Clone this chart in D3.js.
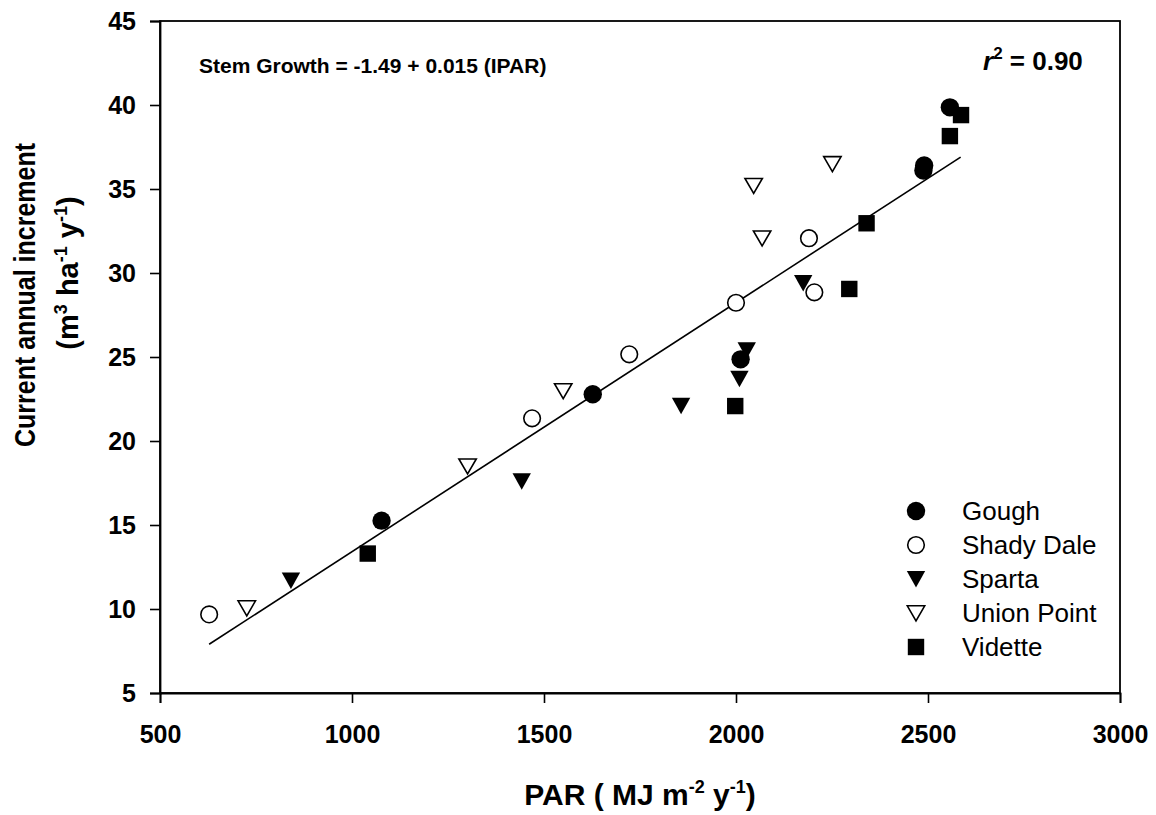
<!DOCTYPE html>
<html>
<head>
<meta charset="utf-8">
<script src="https://cdn.jsdelivr.net/npm/d3@7"></script>
<style>
  body { margin: 0; background: #fff; }
  svg { font-family: "Liberation Sans", Arial, sans-serif; }
</style>
</head>
<body>
<svg id="chart" width="1156" height="815"></svg>
<script>
// site data: [PAR, current annual increment]
let gough = [[1077, 15.26], [1627, 22.78], [2012, 24.86], [2490, 36.4], [2488, 36.1], [2557, 39.86]];
let shadyDale = [[628, 9.68], [1469, 21.35], [1722, 25.16], [2000, 28.23], [2190, 32.07], [2204, 28.85]];
let sparta = [[841, 11.7], [1442, 17.6], [1857, 22.1], [2009, 23.7], [2028, 25.4], [2175, 29.4]];
let unionPoint = [[726, 10.06], [1301, 18.5], [1550, 22.98], [2046, 35.2], [2068, 32.07], [2251, 36.5]];
let vidette = [[1041, 13.3], [1998, 22.08], [2295, 29.05], [2340, 32.96], [2557, 38.15], [2586, 39.4]];
let fitLine = [[628, 7.9], [2585, 36.9]];

let siteNames = ["Gough", "Shady Dale", "Sparta", "Union Point", "Vidette"];
let siteSymbols = ["circleFill", "circleOpen", "triFill", "triOpen", "square"];
let xTicks = [500, 1000, 1500, 2000, 2500, 3000];
let yTicks = [5, 10, 15, 20, 25, 30, 35, 40, 45];

let margin = {top: 21, right: 36, bottom: 122, left: 160};
let W = 1156, H = 815;

let svg = d3.select("#chart");
let x = d3.scaleLinear().domain([500, 3000]).range([margin.left, W - margin.right]);
let y = d3.scaleLinear().domain([5, 45]).range([H - margin.bottom, margin.top]);

// symbol drawing
function drawSymbol(g, kind) {
  if (kind === "circleFill") {
    g.append("circle").attr("r", 9.2).attr("fill", "#000");
  } else if (kind === "circleOpen") {
    g.append("circle").attr("r", 8.3).attr("fill", "#fff").attr("stroke", "#000").attr("stroke-width", 1.6);
  } else if (kind === "triFill") {
    g.append("path").attr("d", "M-9.2,-8L9.2,-8L0,8.5Z").attr("fill", "#000");
  } else if (kind === "triOpen") {
    g.append("path").attr("d", "M-8.7,-7.2L8.7,-7.2L0,7.8Z").attr("fill", "#fff").attr("stroke", "#000").attr("stroke-width", 1.6);
  } else {
    g.append("rect").attr("x", -8.2).attr("y", -8.2).attr("width", 16.4).attr("height", 16.4).attr("fill", "#000");
  }
}

// frame
svg.append("rect")
  .attr("x", x(500)).attr("y", y(45))
  .attr("width", x(3000) - x(500)).attr("height", y(5) - y(45))
  .attr("fill", "none").attr("stroke", "#000").attr("stroke-width", 1.8);

// axes
let xAxis = svg.append("g")
  .attr("transform", `translate(0,${y(5)})`)
  .call(d3.axisBottom(x).tickValues(xTicks).tickSize(10).tickPadding(22).tickFormat(d3.format("d")));
let yAxis = svg.append("g")
  .attr("transform", `translate(${x(500)},0)`)
  .call(d3.axisLeft(y).tickValues(yTicks).tickSize(10).tickPadding(14).tickFormat(d3.format("d")));
[xAxis, yAxis].forEach(a => {
  a.select(".domain").attr("stroke-width", 1.8);
  a.selectAll(".tick line").attr("stroke-width", 1.6);
  a.selectAll("text").attr("font-size", 25).attr("font-weight", "bold").attr("font-family", "Liberation Sans, Arial, sans-serif").attr("fill", "#000");
});
xAxis.selectAll("text").attr("dy", "0.71em");

// regression line
svg.append("path")
  .datum(fitLine)
  .attr("d", d3.line().x(d => x(d[0])).y(d => y(d[1])))
  .attr("fill", "none").attr("stroke", "#000").attr("stroke-width", 1.6);

// points
let series = [gough, shadyDale, sparta, unionPoint, vidette];
series.forEach((pts, i) => {
  pts.forEach(p => {
    let g = svg.append("g").attr("transform", `translate(${x(p[0])},${y(p[1])})`);
    drawSymbol(g, siteSymbols[i]);
  });
});

// legend
let legend = svg.append("g");
siteNames.forEach((name, i) => {
  let ly = 511 + i * 34;
  let g = legend.append("g").attr("transform", `translate(916,${ly})`);
  drawSymbol(g, siteSymbols[i]);
  legend.append("text")
    .attr("x", 962).attr("y", ly).attr("dy", "0.35em")
    .attr("font-size", 26).text(name);
});

// equation and r2
svg.append("text")
  .attr("x", 199).attr("y", 73)
  .attr("font-size", 21).attr("font-weight", "bold")
  .text("Stem Growth = -1.49 + 0.015 (IPAR)");

let r2 = svg.append("text")
  .attr("x", 983).attr("y", 70)
  .attr("font-size", 26).attr("font-weight", "bold");
r2.append("tspan").attr("font-style", "italic").text("r");
r2.append("tspan").attr("font-size", 17).attr("dy", -11).text("2");
r2.append("tspan").attr("dy", 11).text(" = 0.90");

// x title
let xt = svg.append("text")
  .attr("x", 640).attr("y", 805)
  .attr("text-anchor", "middle")
  .attr("font-size", 30).attr("font-weight", "bold");
xt.append("tspan").text("PAR ( MJ m");
xt.append("tspan").attr("font-size", 18).attr("dy", -12).text("-2");
xt.append("tspan").attr("dy", 12).text(" y");
xt.append("tspan").attr("font-size", 18).attr("dy", -12).text("-1");
xt.append("tspan").attr("dy", 12).text(")");

// y title
svg.append("text")
  .attr("transform", "translate(35,295) rotate(-90)")
  .attr("text-anchor", "middle")
  .attr("font-size", 29).attr("font-weight", "bold")
  .attr("textLength", 304).attr("lengthAdjust", "spacingAndGlyphs")
  .text("Current annual increment");

let yt = svg.append("text")
  .attr("transform", "translate(78,273) rotate(-90)")
  .attr("text-anchor", "middle")
  .attr("font-size", 29).attr("font-weight", "bold");
yt.append("tspan").text("(m");
yt.append("tspan").attr("font-size", 18).attr("dy", -11).text("3");
yt.append("tspan").attr("dy", 11).text(" ha");
yt.append("tspan").attr("font-size", 18).attr("dy", -11).text("-1");
yt.append("tspan").attr("dy", 11).text(" y");
yt.append("tspan").attr("font-size", 18).attr("dy", -11).text("-1");
yt.append("tspan").attr("dy", 11).text(")");
</script>
</body>
</html>
